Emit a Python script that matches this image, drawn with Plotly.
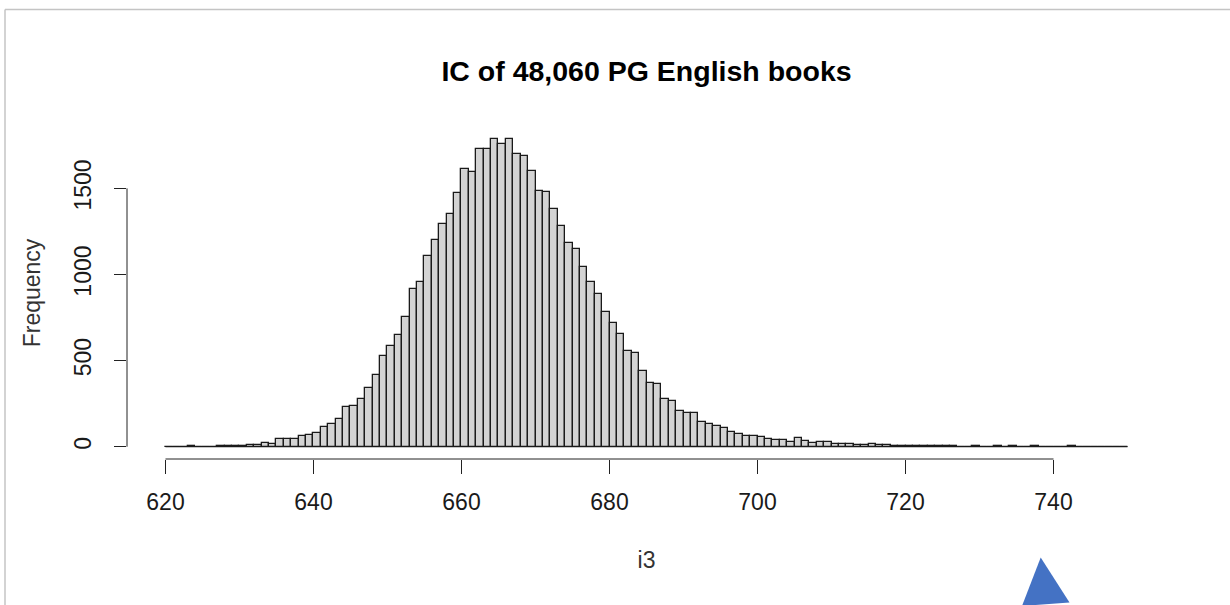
import plotly.graph_objects as go

# Histogram of index-of-coincidence values, 1-unit bins from 620 to 750
bin_start = 620
bin_width = 1
counts = [
    0, 0, 0, 4, 0, 0, 0, 3, 4, 5,                      # 620-629
    6, 10, 12, 24, 15, 45, 46, 46, 64, 66,             # 630-639
    80, 115, 132, 160, 228, 238, 276, 340, 417, 524,   # 640-649
    582, 650, 753, 914, 956, 1106, 1203, 1292, 1354, 1475,  # 650-659
    1612, 1595, 1729, 1729, 1785, 1756, 1785, 1700, 1690, 1603,  # 660-669
    1487, 1479, 1380, 1283, 1184, 1147, 1044, 955, 889, 782,  # 670-679
    718, 656, 553, 545, 442, 371, 363, 278, 263, 210,  # 680-689
    196, 196, 141, 132, 122, 106, 83, 74, 64, 64,      # 690-699
    58, 45, 39, 39, 29, 51, 31, 19, 29, 29,            # 700-709
    16, 15, 17, 12, 12, 13, 11, 8, 3, 5,               # 710-719
    5, 5, 4, 5, 4, 4, 4, 0, 0, 3,                      # 720-729
    0, 0, 3, 0, 3, 0, 0, 3, 0, 0,                      # 730-739
    0, 0, 2, 0, 0, 0, 0, 0, 0, 0,                      # 740-749
]
x_ticks = [620, 640, 660, 680, 700, 720, 740]
y_ticks = [0, 500, 1000, 1500]

title_text = "IC of 48,060 PG English books"
x_title = "i3"
y_title = "Frequency"

n_bins = len(counts)
edges = [bin_start + i * bin_width for i in range(n_bins + 1)]
centers = [bin_start + (i + 0.5) * bin_width for i in range(n_bins)]

# R-style 4% padding of the plotting region
x_pad = 0.04 * (edges[-1] - edges[0])
y_max = max(counts)
y_pad = 0.04 * y_max

W, H = 1230, 605
ML, MR, MT, MB = 127, 64, 127, 146
font_family = "Liberation Sans, Arial, sans-serif"
axis_font = 23

fig = go.Figure()
fig.add_trace(go.Bar(
    x=centers, y=counts, width=bin_width,
    marker=dict(color="#D3D3D3", line=dict(color="#1a1a1a", width=1.3)),
    showlegend=False, hoverinfo="x+y",
))
# zero-height bins still show as a flat outline along the base
fig.add_trace(go.Scatter(
    x=[edges[0], edges[-1]], y=[0, 0], mode="lines",
    line=dict(color="#1a1a1a", width=1.3), showlegend=False, hoverinfo="skip",
))

fig.update_layout(
    width=W, height=H,
    margin=dict(l=ML, r=MR, t=MT, b=MB),
    paper_bgcolor="white", plot_bgcolor="white",
    font=dict(family=font_family, size=axis_font, color="#1a1a1a"),
    title=dict(text="<b>" + title_text + "</b>", xref="paper", x=0.5, xanchor="center",
               y=1 - 71 / H, yanchor="middle",
               font=dict(size=28.5, color="black")),
    bargap=0,
)
fig.update_xaxes(
    range=[edges[0] - x_pad, edges[-1] + x_pad],
    tickvals=x_ticks, ticktext=[str(v) for v in x_ticks],
    ticks="outside", ticklen=14, tickwidth=1, tickcolor="#222222",
    showline=False, showgrid=False, zeroline=False,
    ticklabelstandoff=8,
    title=dict(text=x_title, standoff=38, font=dict(size=axis_font, color="#333333")),
)
fig.update_yaxes(
    range=[-y_pad, y_max + y_pad],
    tickvals=y_ticks, ticktext=[str(v) for v in y_ticks],
    tickangle=-90,
    ticks="outside", ticklen=12, tickwidth=1, tickcolor="#222222",
    showline=False, showgrid=False, zeroline=False,
    ticklabelstandoff=14,
    title=dict(text=y_title, standoff=22, font=dict(size=axis_font, color="#333333")),
)

# axis lines span only the first to last tick
fig.add_shape(type="line", xref="x", yref="paper",
              x0=x_ticks[0], x1=x_ticks[-1], y0=0, y1=0,
              line=dict(color="#222222", width=1))
fig.add_shape(type="line", xref="paper", yref="y",
              x0=0, x1=0, y0=y_ticks[0], y1=y_ticks[-1],
              line=dict(color="#222222", width=1))

# page frame and corner marker, placed in pixel terms
PW, PH = W - ML - MR, H - MT - MB


def px(xp):
    return (xp - ML) / PW


def py(yp):
    return (H - MB - yp) / PH


fig.add_shape(type="line", xref="paper", yref="paper",
              x0=px(5), x1=px(W), y0=py(9.5), y1=py(9.5),
              line=dict(color="#c4c4c4", width=1.5))
fig.add_shape(type="line", xref="paper", yref="paper",
              x0=px(5), x1=px(5), y0=py(9.5), y1=py(H),
              line=dict(color="#c4c4c4", width=1.5))
tri = [(1040.7, 557.5), (1069.5, 602.5), (1022, 606)]
path = "M {} {} L {} {} L {} {} Z".format(*[v for p in tri for v in (px(p[0]), py(p[1]))])
fig.add_shape(type="path", xref="paper", yref="paper", path=path,
              fillcolor="#4472C4", line=dict(width=0))

fig.write_html("out.html")
